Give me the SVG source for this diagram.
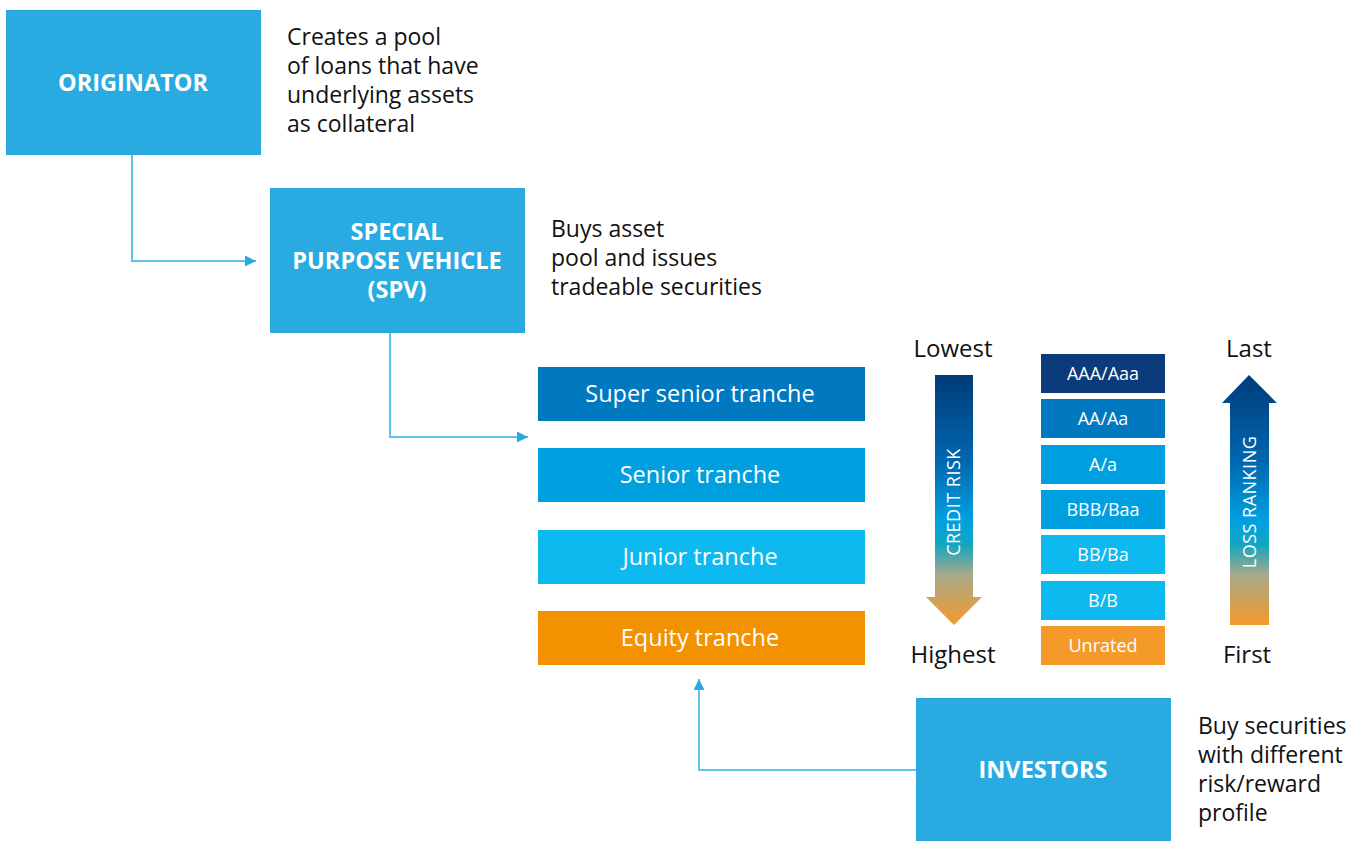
<svg xmlns="http://www.w3.org/2000/svg" width="1365" height="841" viewBox="0 0 1365 841">
<defs>
<style>
.box{fill:#29ABE2}
.title{font-family:"Open Sans","Noto Sans",sans-serif;font-weight:700;font-size:23.5px;fill:#fff;text-anchor:middle}
.desc{font-family:"Open Sans","Noto Sans",sans-serif;font-size:23px;fill:#111}
.tr{font-family:"Open Sans","Noto Sans",sans-serif;font-size:23.5px;fill:#fff;text-anchor:middle}
.rt{font-family:"Open Sans","Noto Sans",sans-serif;font-size:18px;fill:#fff;text-anchor:middle}
.lbl{font-family:"Open Sans","Noto Sans",sans-serif;font-size:24px;fill:#111;text-anchor:middle}
.rot{font-family:"Open Sans","Noto Sans",sans-serif;font-size:18px;fill:#fff;text-anchor:middle;letter-spacing:0.5px}
.conn{fill:none;stroke:#5BC3EC;stroke-width:2}
</style>
<marker id="ah" viewBox="0 0 10 10" refX="10" refY="5" markerWidth="11" markerHeight="11" markerUnits="userSpaceOnUse" orient="auto">
<path d="M0,0 L10,5 L0,10 Z" fill="#29ABE2"/>
</marker>
<linearGradient id="gdown" x1="0" y1="0" x2="0" y2="1">
<stop offset="0" stop-color="#003B7A"/>
<stop offset="0.35" stop-color="#0068B0"/>
<stop offset="0.58" stop-color="#00A0E0"/>
<stop offset="0.68" stop-color="#14A6C0"/>
<stop offset="0.8" stop-color="#A8A88A"/>
<stop offset="1" stop-color="#F39A2B"/>
</linearGradient>
</defs>

<g id="connectors">
<path class="conn" d="M132,155 V261 H256" marker-end="url(#ah)"/>
<path class="conn" d="M390,333 V437 H528" marker-end="url(#ah)"/>
<path class="conn" d="M916,770 H699 V679" marker-end="url(#ah)"/>
</g>

<g id="originator">
<rect class="box" x="6" y="10" width="255" height="145"/>
<text class="title" x="133" y="91">ORIGINATOR</text>
</g>
<g id="originator-desc">
<text class="desc" x="287" y="45">Creates a pool</text>
<text class="desc" x="287" y="74">of loans that have</text>
<text class="desc" x="287" y="103">underlying assets</text>
<text class="desc" x="287" y="132">as collateral</text>
</g>

<g id="spv">
<rect class="box" x="270" y="188" width="255" height="145"/>
<text class="title" x="397" y="240">SPECIAL</text>
<text class="title" x="397" y="269">PURPOSE VEHICLE</text>
<text class="title" x="397" y="298">(SPV)</text>
</g>
<g id="spv-desc">
<text class="desc" x="551" y="237">Buys asset</text>
<text class="desc" x="551" y="266">pool and issues</text>
<text class="desc" x="551" y="295">tradeable securities</text>
</g>

<g id="tranche-super-senior">
<rect x="538" y="367" width="327" height="54" fill="#0079C1"/>
<text class="tr" x="700" y="402">Super senior tranche</text>
</g>
<g id="tranche-senior">
<rect x="538" y="448" width="327" height="54" fill="#009FDF"/>
<text class="tr" x="700" y="483">Senior tranche</text>
</g>
<g id="tranche-junior">
<rect x="538" y="530" width="327" height="54" fill="#0DB9EE"/>
<text class="tr" x="700" y="565">Junior tranche</text>
</g>
<g id="tranche-equity">
<rect x="538" y="611" width="327" height="54" fill="#F39200"/>
<text class="tr" x="700" y="646">Equity tranche</text>
</g>

<g id="credit-risk">
<text class="lbl" x="953" y="357">Lowest</text>
<path d="M935,375 H973 V597 H982 L954,625 L926,597 H935 Z" fill="url(#gdown)"/>
<text class="rot" transform="translate(960,502) rotate(-90)">CREDIT RISK</text>
<text class="lbl" x="953" y="663">Highest</text>
</g>

<g id="ratings">
<rect x="1041" y="354" width="124" height="39" fill="#0B3B7A"/>
<text class="rt" x="1103" y="380">AAA/Aaa</text>
<rect x="1041" y="399" width="124" height="39" fill="#0079C1"/>
<text class="rt" x="1103" y="425">AA/Aa</text>
<rect x="1041" y="445" width="124" height="39" fill="#009FDF"/>
<text class="rt" x="1103" y="471">A/a</text>
<rect x="1041" y="490" width="124" height="39" fill="#009FDF"/>
<text class="rt" x="1103" y="516">BBB/Baa</text>
<rect x="1041" y="535" width="124" height="39" fill="#0DB9EE"/>
<text class="rt" x="1103" y="561">BB/Ba</text>
<rect x="1041" y="581" width="124" height="39" fill="#0DB9EE"/>
<text class="rt" x="1103" y="607">B/B</text>
<rect x="1041" y="626" width="124" height="39" fill="#F39A2B"/>
<text class="rt" x="1103" y="652">Unrated</text>
</g>

<g id="loss-ranking">
<text class="lbl" x="1249" y="357">Last</text>
<path d="M1249,375 L1277,403 H1269 V625 H1230 V403 H1222 Z" fill="url(#gdown)"/>
<text class="rot" transform="translate(1256,502) rotate(-90)">LOSS RANKING</text>
<text class="lbl" x="1247" y="663">First</text>
</g>

<g id="investors">
<rect class="box" x="916" y="698" width="255" height="143"/>
<text class="title" x="1043" y="778">INVESTORS</text>
</g>
<g id="investors-desc">
<text class="desc" x="1198" y="734">Buy securities</text>
<text class="desc" x="1198" y="763">with different</text>
<text class="desc" x="1198" y="792">risk/reward</text>
<text class="desc" x="1198" y="821">profile</text>
</g>
</svg>
